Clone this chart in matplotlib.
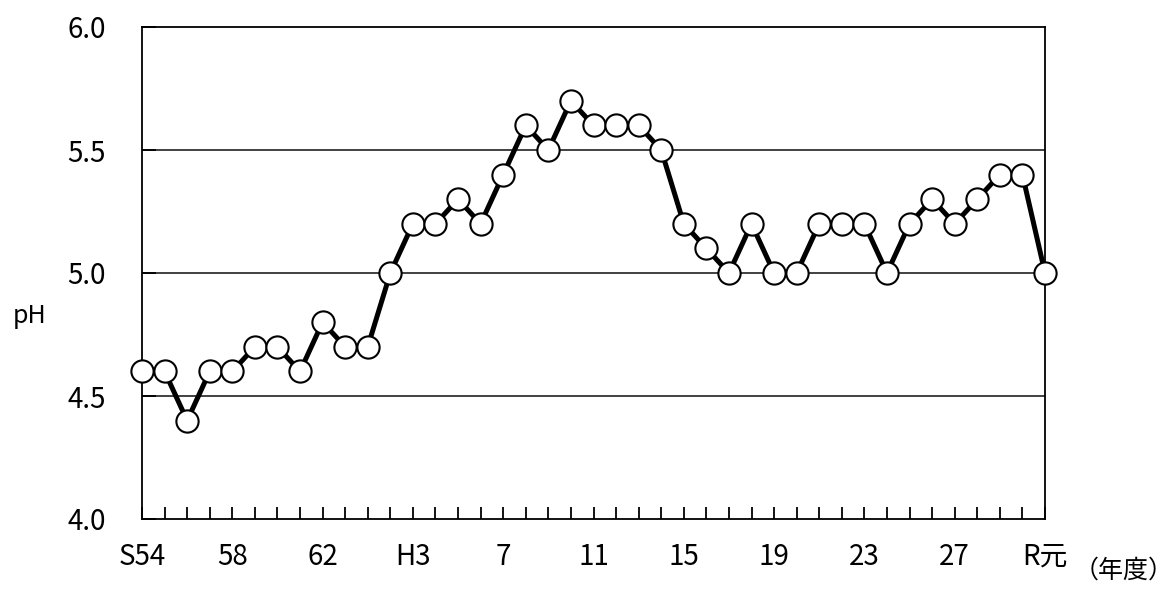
import matplotlib
matplotlib.use("Agg")
import matplotlib.pyplot as plt

plt.rcParams['font.family'] = ['Noto Sans CJK JP', 'DejaVu Sans']

years = list(range(1979, 2020))
ph = [4.6, 4.6, 4.4, 4.6, 4.6, 4.7, 4.7, 4.6, 4.8, 4.7,
      4.7, 5.0, 5.2, 5.2, 5.3, 5.2, 5.4, 5.6, 5.5, 5.7,
      5.6, 5.6, 5.6, 5.5, 5.2, 5.1, 5.0, 5.2, 5.0, 5.0,
      5.2, 5.2, 5.2, 5.0, 5.2, 5.3, 5.2, 5.3, 5.4, 5.4,
      5.0]
tick_years = [1979, 1983, 1987, 1991, 1995, 1999, 2003, 2007, 2011, 2015, 2019]
tick_labels = ["S54", "58", "62", "H3", "7", "11", "15", "19", "23", "27", "R元"]
y_ticks = [4.0, 4.5, 5.0, 5.5, 6.0]
y_labels = ["4.0", "4.5", "5.0", "5.5", "6.0"]

FS = 20

fig = plt.figure(figsize=(11.72, 5.92), dpi=100)
ax = fig.add_axes([142/1172, 1-519/592, (1045-142)/1172, (519-27)/592])

for yv in [4.5, 5.0, 5.5]:
    ax.axhline(yv, color='#333333', lw=1.3, zorder=1)

ax.plot(years, ph, color='black', lw=3.6, marker='o', markersize=16,
        markerfacecolor='white', markeredgecolor='black', markeredgewidth=1.5,
        zorder=3, clip_on=False)

ax.set_xlim(1979, 2019)
ax.set_ylim(4.0, 6.0)
ax.set_xticks(tick_years)
ax.set_xticklabels([])
ax.set_xticks(years, minor=True)
ax.set_yticks(y_ticks)
ax.set_yticklabels(y_labels, fontsize=FS)
ax.tick_params(axis='x', which='both', direction='in', length=9, width=1.3, colors='black')
ax.tick_params(axis='y', direction='in', length=10, width=1.3, pad=26, labelsize=FS)

for yr, lab in zip(tick_years, tick_labels):
    ax.text(yr, -0.077, lab, transform=ax.get_xaxis_transform(), ha='center', va='center',
            fontsize=FS)

for s in ax.spines.values():
    s.set_linewidth(1.3)

fig.text(30/1172, 1-316/592, "pH", ha='center', va='center', fontsize=FS - 2)
fig.text(1124/1172, 1-571/592, "（年度）", ha='center', va='center', fontsize=FS - 2)

fig.savefig("out.png", dpi=100)
